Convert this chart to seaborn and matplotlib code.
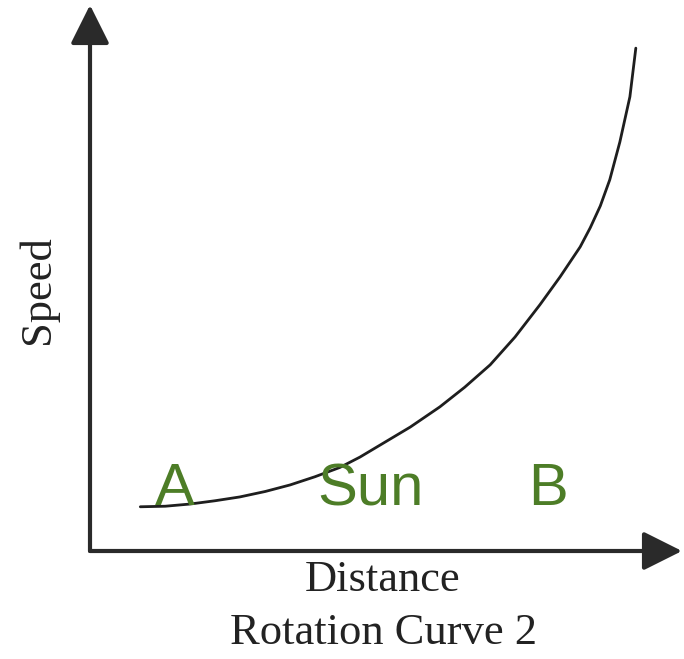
import matplotlib
matplotlib.use("Agg")
import matplotlib.pyplot as plt
import seaborn as sns
import pandas as pd

# curve (arbitrary units, axes span 0..10)
distance = [0.85, 1.27, 1.69, 2.11, 2.53, 2.96, 3.38, 3.80, 4.22, 4.56, 4.90, 5.41,
            5.91, 6.33, 6.76, 7.18, 7.60, 7.94, 8.28, 8.45, 8.62, 8.78, 8.95, 9.12, 9.22]
speed = [0.81, 0.82, 0.86, 0.92, 0.99, 1.09, 1.21, 1.36, 1.53, 1.72, 1.94, 2.27,
         2.64, 3.00, 3.41, 3.92, 4.51, 5.02, 5.57, 5.92, 6.32, 6.80, 7.49, 8.32, 9.21]

point_names = ["A", "Sun", "B"]
point_dist = [1.44, 4.73, 7.74]
point_level = 0.84

df = pd.DataFrame({"Distance": distance, "Speed": speed})

sns.set_style("white")
plt.rcParams['font.family'] = ['Liberation Serif', 'DejaVu Serif']

W, H = 684, 659
fig = plt.figure(figsize=(W / 100, H / 100), dpi=100)
ax = fig.add_axes([90 / W, (H - 551) / H, 592 / W, 546 / H])

sns.lineplot(data=df, x="Distance", y="Speed", ax=ax, color="#1e1e1e", lw=2.0, sort=False,
             solid_joinstyle="round", solid_capstyle="round")

ax.set_xlim(0, 10)
ax.set_ylim(0, 10)
ax.set_xticks([])
ax.set_yticks([])
ax.set_xlabel("")
ax.set_ylabel("")
for s in ax.spines.values():
    s.set_visible(False)

# axes with arrow heads
arrow = dict(arrowstyle="-|>,head_length=1.2,head_width=0.6", lw=3.0, color="#2a2a2a",
             mutation_scale=20, shrinkA=0, shrinkB=0)
ax.annotate("", xy=(0, 1), xytext=(0, 0), xycoords="axes fraction", arrowprops=arrow, annotation_clip=False)
ax.annotate("", xy=(1, 0), xytext=(0, 0), xycoords="axes fraction", arrowprops=arrow, annotation_clip=False)

for name, xd in zip(point_names, point_dist):
    ax.text(xd, point_level, name, ha="center", va="baseline", fontsize=43,
            color="#4d7d27", family=["Liberation Sans", "DejaVu Sans"])

fig.text(38 / W, 1 - 290 / H, "Speed", rotation=90, ha="center", va="center", fontsize=32, color="#222222")
fig.text(383 / W, 1 - 580 / H, "Distance", ha="center", va="center", fontsize=32, color="#222222")
fig.text(384 / W, 1 - 633 / H, "Rotation Curve 2", ha="center", va="center", fontsize=32, color="#222222")

fig.savefig("out.png", dpi=100)
